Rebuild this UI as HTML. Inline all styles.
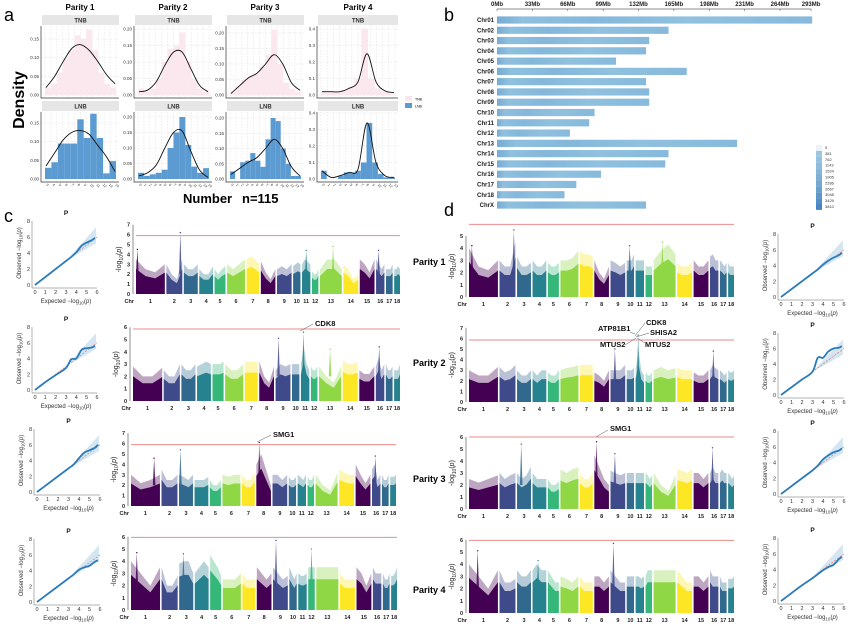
<!DOCTYPE html>
<html><head><meta charset="utf-8"><style>
html,body{margin:0;padding:0;background:#fff;}
svg{display:block;font-family:"Liberation Sans",Arial,sans-serif;}
</style></head><body>
<svg id="fig" width="862" height="635" viewBox="0 0 862 635" xmlns="http://www.w3.org/2000/svg">
<rect x="0" y="0" width="862" height="635" fill="#fff"/>
<text x="4" y="21" font-size="18">a</text>
<text x="444" y="21" font-size="18">b</text>
<text x="4" y="222" font-size="18">c</text>
<text x="444" y="216" font-size="18">d</text>
<text x="80" y="10" font-size="8" font-weight="bold" text-anchor="middle">Parity 1</text>
<text x="173" y="10" font-size="8" font-weight="bold" text-anchor="middle">Parity 2</text>
<text x="265" y="10" font-size="8" font-weight="bold" text-anchor="middle">Parity 3</text>
<text x="358" y="10" font-size="8" font-weight="bold" text-anchor="middle">Parity 4</text>
<text transform="translate(24,100) rotate(-90)" font-size="16" font-weight="bold" text-anchor="middle">Density</text>
<text x="183" y="203" font-size="13" font-weight="bold">Number</text>
<text x="242" y="203" font-size="13" font-weight="bold">n=115</text>
<rect x="405" y="96" width="7" height="5" fill="#f9e6ec"/>
<text x="415" y="100.5" font-size="3.5">TNB</text>
<rect x="405" y="103" width="7" height="5" fill="#5b9bd1"/>
<text x="415" y="107.5" font-size="3.5">LNB</text>
<text x="413" y="265" font-size="9" font-weight="bold">Parity 1</text>
<text x="413" y="366" font-size="9" font-weight="bold">Parity 2</text>
<text x="413" y="482" font-size="9" font-weight="bold">Parity 3</text>
<text x="413" y="593" font-size="9" font-weight="bold">Parity 4</text>
</svg>
<script>
// ---------- DATA ----------
const lnbBarsP1 = [0.03,0.045,0.095,0.095,0.095,0.16,0.11,0.175,0.11,0.015,0.048];
const lnbBarsP2 = [0.02,0.01,0.015,0.02,0.03,0.1,0.15,0.2,0.11,0.04,0.02,0.035];
const lnbBarsP3 = [0.025,0,0.055,0.06,0.085,0.06,0.04,0.13,0.2,0.19,0.1,0.05,0.01,0.01];
const lnbBarsP4 = [0.05,0,0,0.02,0.04,0.04,0.05,0.1,0.34,0.1,0.03,0.01,0.01];
const tnbBarsP1 = [0.02,0.03,0.06,0.1,0.12,0.16,0.15,0.175,0.12,0.06,0.03,0.02];
const tnbBarsP2 = [0.02,0.01,0.02,0.05,0.1,0.14,0.15,0.19,0.1,0.05,0.02,0.01];
const tnbBarsP3 = [0.01,0.03,0.05,0.06,0.07,0.09,0.13,0.21,0.1,0.04,0.02,0.01];
const tnbBarsP4 = [0.02,0.02,0.02,0.03,0.05,0.1,0.4,0.1,0.04,0.02,0.01];
const tnbCurveP1 = [0.02,0.05,0.09,0.125,0.135,0.12,0.09,0.055,0.03];
const tnbCurveP2 = [0.01,0.015,0.04,0.09,0.13,0.13,0.08,0.03,0.01];
const tnbCurveP3 = [0.005,0.03,0.055,0.07,0.1,0.13,0.1,0.04,0.015];
const tnbCurveP4 = [0.02,0.02,0.02,0.04,0.08,0.25,0.08,0.025,0.015];
const lnbCurveP1 = [0.035,0.07,0.105,0.125,0.13,0.12,0.09,0.06,0.02];
const lnbCurveP2 = [0.01,0.02,0.045,0.1,0.15,0.155,0.09,0.03,0.005];
const lnbCurveP3 = [0.015,0.035,0.055,0.07,0.1,0.13,0.1,0.04,0.01];
const lnbCurveP4 = [0.05,0.01,0.02,0.04,0.06,0.34,0.1,0.02,0.01];
const xTicksP1 = ['3','4','5','6','7','8','9','10','11','12','13','14'];
const xTicksP2 = ['0','1','2','3','4','5','6','7','8','9','10','11','12','13','14'];
const xTicksP3 = ['0','1','2','3','4','5','6','7','8','9','10','11','12','13','14'];
const xTicksP4 = ['0','1','2','3','4','5','6','7','8','9','10','11','12','13'];
const yTicksP1 = [0,0.05,0.1,0.15];
const yTicksP23 = [0,0.05,0.1,0.15,0.2];
const yTicksP4 = [0,0.1,0.2,0.3,0.4];

const chrNamesB = ['Chr01','Chr02','Chr03','Chr04','Chr05','Chr06','Chr07','Chr08','Chr09','Chr10','Chr11','Chr12','Chr13','Chr14','Chr15','Chr16','Chr17','Chr18','ChrX'];
const chrLenB = [294,160,142,139,111,177,139,142,142,91,86,68,224,160,157,97,74,63,139];
const mbTicks = [0,33,66,99,132,165,198,231,264,293];
const densityLegend = ['0','381','762','1143','1524','1905','2286','2667','3048','3429','3810'];

const chrLenMb = [274,151,132,130,104,170,121,138,139,69,79,61,208,141,140,79,63,55];
const envC1 = [[3.5,2.5,2.2,3],[3,2,1.5,3.5],[3,2.5,2.5,3],[2.5,2,2,2.8],[2.5,2,2.5,2.8],[3,2.5,3,3.5],[3.5,3.8,3.5,3],[3.3,2.2,1.5,2.5],[2.5,2.8,2.5,3],[2.8,3,3.2,3],[3,3.5,3.3,3],[2.3,2,2,2.5],[2.5,3.5,3.5,2.5],[3,2.5,1.5,2],[3.5,3,2.2,3.5],[3.5,3,2.5,3],[2.5,2.5,2.5,3],[2.5,2.5,2.8,2.5]];
const envC2 = [[2.8,2,2,2.7],[2.5,2,2,3],[3,2.5,2.5,3],[2.8,3,3.2,3],[3,3,3,3.2],[3,2.5,2.5,3],[3.2,3.2,3.2,3.2],[3.2,2,1.5,2.8],[2.5,3,2.8,3],[3,3,3,3],[3,4.5,3,2.5],[2.8,2.5,2.5,2.8],[2.8,2,1.5,2.8],[3.3,3,3,3.2],[2.5,2.2,2.2,2.8],[2.8,3.5,2.5,3],[3,2.5,2.5,2.8],[2.5,2.5,2.5,3]];
const envC3 = [[3,2.2,2.5,3],[3.5,2.5,2.5,3],[3,2.8,2.5,3],[2.5,2.5,2.5,2.8],[2.5,2,2,2.5],[3,2.8,3,3],[3,2.5,2.5,3.2],[4,5,3.5,2],[3,3,2.5,3],[2.8,2.5,2.5,2.8],[3,2.8,2.5,3],[2.8,2.5,2.5,3],[3,2,1.5,3.2],[3.5,3.2,3,3],[4,3,2.2,3],[3.5,4,2.5,3],[3,2.5,2.5,3],[2.8,2.8,2.8,3]];
const envC4 = [[4,3,2,3.5],[3.5,2,2,2.8],[3.8,4,4,3],[3,3.5,4,3.5],[4.5,4,3.5,2.8],[2.5,2.5,2.5,3],[3,2.5,2.5,2.5],[3.5,3,2.5,3],[3.5,3,2.5,2.8],[3.5,3,2.5,3],[3,2.8,2.8,3],[3.5,3.5,3.5,3.5],[3.5,3.5,3.5,3.5],[3,2.5,2.5,2.5],[3.5,3,2,3],[3.5,3,3,3],[3,2.5,2.5,3],[2.8,2.8,3,3.5]];
const envD1 = [[4,2.5,2.2,3],[3,2.5,2.5,4.5],[3.3,2.5,2.5,2.8],[3,2.5,2.5,3],[2.8,2.5,2.5,2.8],[3,3,3.2,3.8],[3.8,3.5,3.5,3.3],[3,2,1.5,2.5],[3,2.8,2.5,2.8],[3,3,3,3.5],[3,3,3,3],[2.5,2.5,2.5,2.5],[3,3.8,4.3,3.5],[2.8,2.5,2.5,2.8],[3,2.5,2.5,3],[3.3,3.5,3,3],[3,2.8,2.5,2.8],[2.8,2.5,2.5,2.5]];
const envD2 = [[3,2.5,2.5,3.3],[3.3,2.8,3,3.5],[3,2.5,2.5,3],[3,2.5,3,3],[2.8,2.5,2.5,3],[3,3.2,3.3,3.5],[3.5,3.5,3.5,3.5],[2.8,2.5,2,3],[3,3,3,3.5],[3,3,3,3.2],[3,5,3,2.5],[2.8,2.5,2.5,2.8],[3,3.3,3,3.2],[3.3,3,3,3],[2.8,2.5,2.5,3],[3,3.5,3.2,3],[3,2.8,2.5,2.8],[3,2.8,2.8,3]];
const envD3 = [[2.5,2.2,2.5,2.8],[3,2.5,2.8,3],[3,2.5,2.8,3.5],[3,2.5,2.5,2.5],[2.5,2,2,2.3],[3.3,3,3.3,3.5],[3,2.5,2.5,3],[4.5,3.5,2.5,2],[3.2,3,2.8,3],[3,3,3,3],[3,3,3,3],[3,2.8,2.5,2.8],[3,2,1.5,2.8],[3.3,3.2,3,3.3],[3,3,2.5,3],[3,3.5,3,3],[3,3.3,3,3],[3,2.8,2.5,2.8]];
const envD4 = [[4,3,2,3.5],[3.5,2.5,2.5,2.8],[3.5,3,3,3.5],[3.5,4,3.5,3.5],[3.5,3,2.5,2.5],[3,2.8,2.5,3],[3,2.5,2.5,2.5],[3,3,2.5,3],[3.5,3,2.5,2.5],[3,3,3,3],[3,3,2.8,3],[3,3.5,3.5,3.5],[3.5,3.5,3.5,3.5],[3.5,3,2.5,2.5],[3,3,2.5,3],[3.5,3,3,3],[3,2.5,2.5,2.5],[2.8,2.8,2.8,3]];
const peaksC1 = [[1,0.88,6.2],[0,0.05,4.5],[10,0.5,4.4],[12,0.6,4.8],[15,0.3,4.4]];
const peaksC2 = [[10,0.3,5.6],[8,0.2,5.1],[15,0.4,4.4],[12,0.5,4.2]];
const peaksC3 = [[7,0.2,6.1],[2,0.1,5.4],[0,0.8,4.6],[15,0.4,4.8]];
const peaksC4 = [[8,0.2,5.7],[11,0.5,5.0],[0,0.2,4.7],[2,0.3,4.6]];
const peaksD1 = [[1,0.9,5.5],[12,0.4,4.5],[9,0.4,4.2],[0,0.1,4.2]];
const peaksD2 = [[10,0.3,6.3],[15,0.4,4.8],[8,0.3,5.0]];
const peaksD3 = [[7,0.15,5.6],[2,0.3,5.4],[15,0.3,5.1],[8,0.3,4.6]];
const peaksD4 = [[8,0.2,5.7],[0,0.3,5.1],[3,0.4,4.3]];
const qqExpected = [0,1,2,3,3.5,4,4.5,5,5.5,5.8];
const qqC1 = [0,1,2,3,3.5,4.1,4.9,5.3,5.6,5.9];
const qqC2 = [0,1,1.9,2.8,3.9,4.0,5.1,5.3,5.4,5.6];
const qqC3 = [0,1,2,3,3.5,4.3,5.0,5.3,5.6,6];
const qqC4 = [0,1,2,3,3.5,4.1,4.4,4.6,5.1,5.3];
const qqD1 = [0,1,2,3,3.5,4.1,4.6,5.0,5.3,5.6];
const qqD2 = [0,1,2,3,4.8,4.8,5.6,6.0,6.1,6.3];
const qqD3 = [0,1,2,3,3.6,4.4,4.9,5.3,5.5,5.8];
const qqD4 = [0,1,2,2.9,3.4,3.9,4.3,4.6,5.3,5.6];

// ---------- RENDER ----------
const NS='http://www.w3.org/2000/svg';
const svg=document.getElementById('fig');
function mk(tag,attrs,parent){const e=document.createElementNS(NS,tag);for(const k in attrs)e.setAttribute(k,attrs[k]);(parent||svg).appendChild(e);return e;}
function smooth(pts){let d='M'+pts[0][0]+','+pts[0][1];for(let i=0;i<pts.length-1;i++){const p0=pts[i-1]||pts[i],p1=pts[i],p2=pts[i+1],p3=pts[i+2]||p2;d+=' C'+(p1[0]+(p2[0]-p0[0])/6)+','+(p1[1]+(p2[1]-p0[1])/6)+' '+(p2[0]-(p3[0]-p1[0])/6)+','+(p2[1]-(p3[1]-p1[1])/6)+' '+p2[0]+','+p2[1];}return d;}

const facetCols=[[42,119],[135,212],[227,304],[318,398]];
const facetSets=[
 {tb:tnbBarsP1,tc:tnbCurveP1,lb:lnbBarsP1,lc:lnbCurveP1,ticks:yTicksP1,sc:[373,373],xt:xTicksP1},
 {tb:tnbBarsP2,tc:tnbCurveP2,lb:lnbBarsP2,lc:lnbCurveP2,ticks:yTicksP23,sc:[330,310],xt:xTicksP2},
 {tb:tnbBarsP3,tc:tnbCurveP3,lb:lnbBarsP3,lc:lnbCurveP3,ticks:yTicksP23,sc:[310,305],xt:xTicksP3},
 {tb:tnbBarsP4,tc:tnbCurveP4,lb:lnbBarsP4,lc:lnbCurveP4,ticks:yTicksP4,sc:[165,165],xt:xTicksP4}];
function facet(ci,row,bars,curve,scale,ticks,xt){
  const [x0,x1]=facetCols[ci];
  const top=row===0?26:112, zero=row===0?95:179, bottom=row===0?97:181;
  const g=mk('g',{});
  
  
  const strip=mk('rect',{x:x0,y:top-11,width:x1-x0,height:10,fill:'#e6e6e6'},g);
  
  
  const st=mk('text',{x:(x0+x1)/2,y:top-3.5,'font-size':6,'font-weight':'bold','text-anchor':'middle',fill:'#333'},g);
  st.textContent=row===0?'TNB':'LNB';
  
  
  const y=v=>zero-v*scale;
  for(let k=0;k<=12;k++){const gx=x0+3+k*(x1-x0-6)/12;const l=mk('line',{x1:gx,x2:gx,y1:top,y2:bottom,stroke:'#ddd','stroke-width':0.5,'stroke-dasharray':'1.5,1.5'},g);
  
  }
  ticks.forEach(t=>{const l=mk('line',{x1:x0,x2:x1,y1:y(t),y2:y(t),stroke:'#ddd','stroke-width':0.5,'stroke-dasharray':'1.5,1.5'},g);
  
  
  const tx=mk('text',{x:x0-3,y:y(t)+1.5,'font-size':4.5,'text-anchor':'end',fill:'#333'},g);
  tx.textContent=t.toFixed(ci===3?1:2);
  
  });
  const n=bars.length,bw=(x1-x0-6)/n;
  bars.forEach((v,i)=>{if(v<=0)return;const r=mk('rect',{x:x0+3+i*bw,y:y(v),width:bw,height:v*scale,fill:row===0?'#fae8ee':'#5b9bd1'},g);
  
  });
  const pts=curve.map((v,i)=>[x0+4+i*(x1-x0-8)/(curve.length-1),y(v)]);
  const c=mk('path',{d:smooth(pts),fill:'none',stroke:'#111','stroke-width':0.9},g);
  
  
  const ax=mk('path',{d:'M'+(x0-1)+','+top+' V'+(bottom+1)+' H'+x1,fill:'none',stroke:'#333','stroke-width':0.7},g);
  
  
  if(row===1){xt.forEach((s,i)=>{const tx=mk('text',{'font-size':3.5,fill:'#333',transform:'translate('+(x0+4+i*(x1-x0-8)/(xt.length-1))+','+(bottom+4)+') rotate(45)'},g);
  tx.textContent=s;
  
  });}
}
facetSets.forEach((f,ci)=>{facet(ci,0,f.tb,f.tc,f.sc[0],f.ticks,f.xt);facet(ci,1,f.lb,f.lc,f.sc[1],f.ticks,f.xt);});

(function(){
  const ox=497,s=1.072;
  const g=mk('g',{});
  
  
  const defs=mk('defs',{},svg);
  const grad=mk('linearGradient',{id:'chrg',x1:0,x2:1,y1:0,y2:0},defs);
  [['0','#77abd4'],['0.08','#8fc0de'],['0.3','#84b7da'],['0.6','#90c1de'],['1','#86b9dc']].forEach(a=>mk('stop',{offset:a[0],'stop-color':a[1]},grad));
  const ax=mk('line',{x1:ox,x2:ox+293*s,y1:9,y2:9,stroke:'#666','stroke-width':0.7},g);
  
  
  mbTicks.forEach(t=>{const l=mk('line',{x1:ox+t*s,x2:ox+t*s,y1:9,y2:11,stroke:'#666','stroke-width':0.6},g);
  
  
  const tx=mk('text',{x:ox+t*s,y:6,'font-size':6,'font-weight':'bold','text-anchor':'middle',fill:'#222'},g);
  tx.textContent=t+'Mb';
  
  });
  chrLenB.forEach((L,i)=>{const cy=20+i*10.28;
  const r=mk('rect',{x:ox,y:cy-3.6,width:L*s,height:7.2,fill:'url(#chrg)'},g);
  
  
  const tx=mk('text',{x:494,y:cy+2,'font-size':6,'font-weight':'bold','text-anchor':'end',fill:'#222'},g);
  tx.textContent=chrNamesB[i];
  
  });
  const cols=['#eef3f7','#9cc6e2','#95c1e0','#8dbcdc','#86b6d9','#7eb0d6','#74a8d2','#6aa0ce','#5f97ca','#548fc5','#4886c1'];
  densityLegend.forEach((s2,i)=>{const r=mk('rect',{x:816,y:145+i*5.9,width:6,height:5.9,fill:cols[i]},g);
  
  
  const tx=mk('text',{x:825,y:149+i*5.9,'font-size':4,fill:'#333'},g);
  tx.textContent=s2;
  
  });
})();

const chrColors=['#440154','#3e4a89','#31688e','#26828e','#35b779','#8fd744','#fde725'];
function manhattan(cfg,env,peaks,name){
  const g=mk('g',{});
  
  
  const total=chrLenMb.reduce((a,b)=>a+b,0),gap=1.6,W=cfg.x1-cfg.x0-gap*17;
  const y=v=>cfg.y0-v*cfg.unit;
  let x=cfg.x0;const starts=[],widths=[];
  chrLenMb.forEach((L,i)=>{const w=L/total*W;starts.push(x);widths.push(w);const e=env[i],col=chrColors[i%7];
   const xs=[x,x+w/3,x+2*w/3,x+w];
   let p1='M'+x+','+cfg.y0;xs.forEach((xx,k)=>p1+=' L'+xx+','+y(e[k]*0.72));p1+=' L'+(x+w)+','+cfg.y0+'Z';
   let p2='M'+x+','+cfg.y0;xs.forEach((xx,k)=>p2+=' L'+xx+','+y(e[k]));p2+=' L'+(x+w)+','+cfg.y0+'Z';
   const f=mk('path',{d:p2,fill:col,opacity:0.35},g);
   
   
   const m=mk('path',{d:p1,fill:col},g);
   
   
   const lb=mk('text',{x:x+w/2,y:cfg.y0+9,'font-size':5.5,'font-weight':'bold','text-anchor':'middle',fill:'#222'},g);
   lb.textContent=String(i+1);
   
   
   x+=w+gap;});
  peaks.forEach(p=>{const px=starts[p[0]]+widths[p[0]]*p[1],col=chrColors[p[0]%7];
   const sp=mk('path',{d:'M'+(px-1.3)+','+y(2)+' L'+px+','+y(p[2])+' L'+(px+1.3)+','+y(2)+'Z',fill:col,opacity:0.85},g);
   
   
   const dt=mk('circle',{cx:px,cy:y(p[2]),r:0.7,fill:col},g);
   
   });
  const ax=mk('line',{x1:cfg.x0-3,x2:cfg.x0-3,y1:cfg.y0,y2:y(cfg.ymax),stroke:'#444','stroke-width':0.6},g);
  
  
  for(let t=0;t<=cfg.ymax;t++){const tx=mk('text',{x:cfg.x0-6,y:y(t)+2,'font-size':5.5,'font-weight':'bold','text-anchor':'end',fill:'#222'},g);
   tx.textContent=String(t);
   
   }
  const thr=mk('line',{x1:cfg.x0,x2:cfg.x1,y1:y(cfg.thr),y2:y(cfg.thr),stroke:'#ef8a8a','stroke-width':1},g);
  
  
  const ch=mk('text',{x:cfg.x0-2,y:cfg.y0+9,'font-size':5.5,'font-weight':'bold','text-anchor':'end',fill:'#222'},g);
  ch.textContent='Chr';
  
  
  const yl=mk('text',{'font-size':7,'text-anchor':'middle',fill:'#222',transform:'translate('+(cfg.x0-15)+','+(cfg.y0-cfg.ymax*cfg.unit/2)+') rotate(-90)'},g);
  yl.innerHTML='-log<tspan font-size="5" dy="2">10</tspan><tspan dy="-2">(</tspan><tspan font-style="italic">p</tspan>)';
  
  
  return g;
}
manhattan({x0:136,x1:400,y0:294,unit:9.9,ymax:7,thr:5.9},envC1,peaksC1,'manhattan-c-parity-1');
manhattan({x0:133,x1:400,y0:401,unit:12.3,ymax:6,thr:5.85},envC2,peaksC2,'manhattan-c-parity-2');
manhattan({x0:131,x1:396,y0:506,unit:10.4,ymax:7,thr:5.9},envC3,peaksC3,'manhattan-c-parity-3');
manhattan({x0:131,x1:397,y0:610,unit:12.2,ymax:6,thr:5.95},envC4,peaksC4,'manhattan-c-parity-4');
manhattan({x0:469,x1:734,y0:297,unit:12.2,ymax:5,thr:5.95},envD1,peaksD1,'manhattan-d-parity-1');
manhattan({x0:469,x1:734,y0:402,unit:10.6,ymax:7,thr:5.85},envD2,peaksD2,'manhattan-d-parity-2');
manhattan({x0:469,x1:734,y0:509,unit:12,ymax:6,thr:6},envD3,peaksD3,'manhattan-d-parity-3');
manhattan({x0:469,x1:734,y0:613,unit:12.2,ymax:6,thr:5.95},envD4,peaksD4,'manhattan-d-parity-4');

function ann(text,tx,ty,lx1,ly1,lx2,ly2){
  const l=mk('line',{x1:lx1,y1:ly1,x2:lx2,y2:ly2,stroke:'#555','stroke-width':0.5});
  
  
  const t=mk('text',{x:tx,y:ty,'font-size':7.5,'font-weight':'bold',fill:'#111'});
  t.textContent=text;
  
  
}
ann('CDK8',315,326,300,331,313,324);
ann('SMG1',273,437,257,442,271,435);
ann('ATP81B1',598,331,635,334,630,332);
ann('CDK8',646,325,635,336,645,323);
ann('SHISA2',650,335,636,337,649,333);
ann('MTUS2',600,347,636,338,625,345);
ann('MTUS2',645,347,637,338,645,343);
ann('SMG1',610,431,596,437,608,430);

function qq(cfg,obs,name){
  const g=mk('g',{});
  
  
  const sx=(cfg.x1-cfg.x0)/6,sy=(cfg.y0-cfg.y8)/8;
  const X=v=>cfg.x0+v*sx,Y=v=>cfg.y0-v*sy;
  const band=mk('path',{d:'M'+X(3)+','+Y(3)+' L'+X(5.9)+','+Y(7.2)+' L'+X(5.9)+','+Y(5.2)+'Z',fill:'#d3e6f2'},g);
  
  
  const d=mk('line',{x1:X(0),y1:Y(0),x2:X(6),y2:Y(6),stroke:'#e57373','stroke-width':0.7,'stroke-dasharray':'2,1.5'},g);
  
  
  const pts=qqExpected.map((e,i)=>[X(e),Y(obs[i])]);
  const ln=mk('path',{d:smooth(pts),fill:'none',stroke:'#2b7bba','stroke-width':1.8},g);
  
  
  const ax=mk('path',{d:'M'+(cfg.x0-3)+','+Y(8)+' V'+(cfg.y0+3)+' H'+X(6),fill:'none',stroke:'#666','stroke-width':0.5},g);
  
  
  [0,2,4,6,8].forEach(t=>{const tx=mk('text',{x:cfg.x0-5,y:Y(t)+2,'font-size':5.5,'text-anchor':'end',fill:'#333'},g);
   tx.textContent=String(t);
   
   });
  [0,1,2,3,4,5,6].forEach(t=>{const tx=mk('text',{x:X(t),y:cfg.y0+9,'font-size':5.5,'text-anchor':'middle',fill:'#333'},g);
   tx.textContent=String(t);
   
   });
  const xl=mk('text',{x:X(3),y:cfg.y0+18,'font-size':6,'text-anchor':'middle',fill:'#333'},g);
  xl.innerHTML='Expected  \u2212log<tspan font-size="4.5" dy="1.5">10</tspan><tspan dy="-1.5">(</tspan><tspan font-style="italic">p</tspan>)';
  
  
  const yl=mk('text',{'font-size':6,'text-anchor':'middle',fill:'#333',transform:'translate('+(cfg.x0-14)+','+Y(4)+') rotate(-90)'},g);
  yl.innerHTML='Observed  \u2212log<tspan font-size="4.5" dy="1.5">10</tspan><tspan dy="-1.5">(</tspan><tspan font-style="italic">p</tspan>)';
  
  
  const tt=mk('text',{x:X(3),y:Y(8)-6,'font-size':6.5,'font-weight':'bold','text-anchor':'middle',fill:'#111'},g);
  tt.textContent='P';
  
  
}
qq({x0:35,x1:97,y0:285,y8:221},qqC1,'qq-c-parity-1');
qq({x0:35,x1:97,y0:390,y8:327},qqC2,'qq-c-parity-2');
qq({x0:37,x1:100,y0:492,y8:429},qqC3,'qq-c-parity-3');
qq({x0:37,x1:100,y0:602,y8:539},qqC4,'qq-c-parity-4');
qq({x0:781,x1:844,y0:297,y8:234},qqD1,'qq-d-parity-1');
qq({x0:781,x1:844,y0:395,y8:333},qqD2,'qq-d-parity-2');
qq({x0:781,x1:844,y0:494,y8:431},qqD3,'qq-d-parity-3');
qq({x0:781,x1:844,y0:601,y8:538},qqD4,'qq-d-parity-4');
</script>
</body></html>
